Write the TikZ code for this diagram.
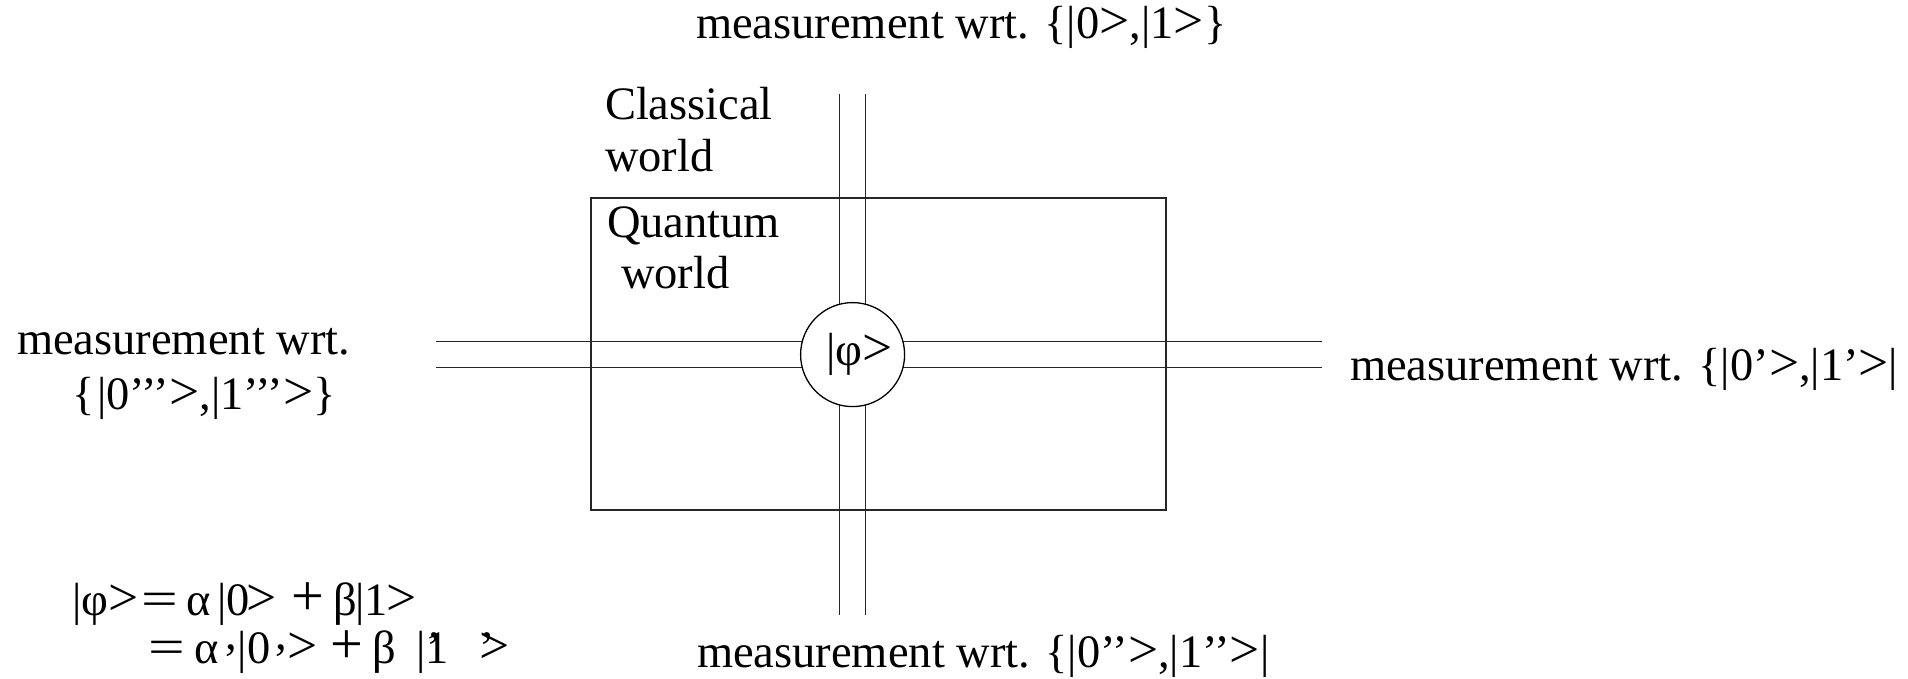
\documentclass[tikz,border=0pt]{standalone}
\usepackage{graphicx}
\usepackage{fontspec}
\setmainfont{Liberation Serif}
\newcommand\Gt{\scalebox{1.15}{>}}
\newcommand\Eq{\scalebox{1.4}[1.05]{=}}
\newcommand\Pl{\scalebox{1.25}{+}}
\begin{document}
\begin{tikzpicture}[x=1pt,y=-1pt,
  lbl/.style={anchor=base west,inner sep=0pt,outer sep=0pt,font=\fontsize{46.5}{52}\selectfont},
  wire/.style={line width=1.4pt,black!85},
  frame/.style={line width=1.3pt,black!85},
  state/.style={circle,draw,line width=1.3pt,fill=white,minimum size=104pt,inner sep=0pt,font=\fontsize{46.5}{52}\selectfont}]
\useasboundingbox (0,0) rectangle (1908,679);
% quantum world frame
\draw[frame] (591,198) rectangle (1166,510);
% double wires
\coordinate (tL) at (839.3,94);  \coordinate (bL) at (839.3,615);
\coordinate (tR) at (865.7,94);  \coordinate (bR) at (865.7,615);
\coordinate (lT) at (436,341.7); \coordinate (rT) at (1322,341.7);
\coordinate (lB) at (436,367.7); \coordinate (rB) at (1322,367.7);
\draw[wire] (tL) -- (bL);
\draw[wire] (tR) -- (bR);
\draw[wire] (lT) -- (rT);
\draw[wire] (lB) -- (rB);
% state
\node[state] (phi) at (852.6,354.6) {\hspace*{14pt}|φ\Gt};
% labels
\node[lbl] (mtop) at (696,39) {measurement wrt. \{|0\Gt,|1\Gt\}};
\node[lbl] (cl1) at (605,120) {Classical};
\node[lbl] (cl2) at (605,172) {world};
\node[lbl] (qu1) at (607,237) {Quantum};
\node[lbl] (qu2) at (621,288) {world};
\node[lbl] (mleft1) at (17,354) {measurement wrt.};
\node[lbl] (mleft2) at (72,409) {\{\kern3pt|0’’’\Gt,|1’’’\Gt\}};
\node[lbl] (mright) at (1350,380) {measurement wrt. \{|0’\Gt,|1’\Gt|};
\node[lbl] (mbot) at (697,667) {measurement wrt. \{|0’’\Gt,|1’’\Gt|};
\node[lbl] (eq1) at (72,615) {|φ\Gt\kern3pt\Eq\kern8pt α\kern7pt|0\kern-3pt\Gt\kern14pt\Pl\kern10pt β\kern-2pt|1\kern-2pt\Gt};
\node[lbl] (eq2) at (148,663) {\Eq\kern10pt α\kern6pt\raisebox{0.28em}{,}\kern1pt|0\kern5pt\raisebox{0.28em}{,}\kern1pt\Gt\kern12pt\Pl\kern10pt β\kern20pt|\rlap{\kern1pt’}1\kern30pt\rlap{’}\Gt};
\end{tikzpicture}
\end{document}
